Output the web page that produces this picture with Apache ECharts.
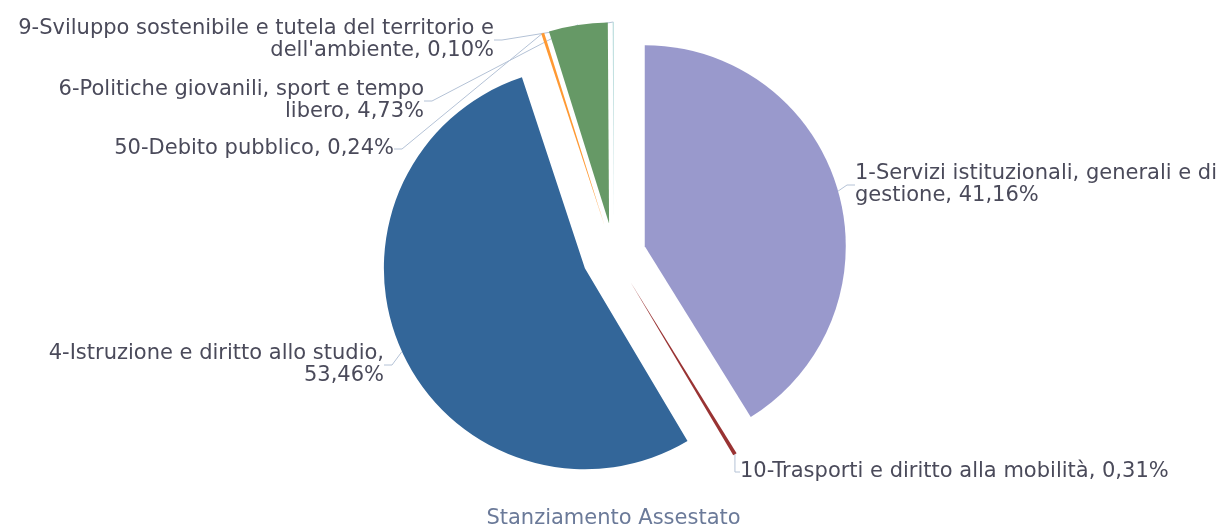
<!DOCTYPE html>
<html>
<head>
<meta charset="utf-8">
<title>Stanziamento Assestato</title>
<script src="https://cdn.jsdelivr.net/npm/echarts@6/dist/echarts.min.js"></script>
<style>
	html, body { margin: 0; padding: 0; background: #fff; }
	#pie { width: 1227px; height: 525px; }
</style>
</head>
<body>
<div id="pie"></div>
<script>
// dati del grafico (percentuali)
var names = [
	'1-Servizi istituzionali, generali e di\ngestione',
	'10-Trasporti e diritto alla mobilità',
	'4-Istruzione e diritto allo studio',
	'50-Debito pubblico',
	'6-Politiche giovanili, sport e tempo\nlibero',
	'9-Sviluppo sostenibile e tutela del territorio e\ndell\'ambiente'
];
var values = [41.16, 0.31, 53.46, 0.24, 4.73, 0.10];
var pctOnNewLine = [false, false, true, false, false, false];
var colors = ['#9999cc', '#993333', '#336699', '#ff9933', '#669966', '#bbdddd'];
var title = 'Stanziamento Assestato';

// geometria della torta
var cx = 614, cy = 255, R = 201, explode = 32;

// posizione delle etichette (ancora, allineamento)
var labelPos = [
	[ 855, 185, 'left' ],
	[ 740, 472, 'left' ],
	[ 384, 365, 'right' ],
	[ 394, 149, 'right' ],
	[ 424, 101, 'right' ],
	[ 494, 40, 'right' ]
];

var myPie = echarts.init(document.getElementById('pie'));

var total = 0;
for (var i = 0; i < values.length; i++) total += values[i];

// una serie per fetta, ognuna spostata lungo la bisettrice
var series = [];
var cum = 0;
for (var k = 0; k < values.length; k++) {
	var mid = (cum + values[k] / 2) / total * 2 * Math.PI;
	cum += values[k];
	var data = [];
	for (var j = 0; j < values.length; j++) {
		var on = (j === k);
		data.push({
			name : names[j],
			value : values[j],
			itemStyle : on ? { color : colors[j] } : { opacity : 0 },
			label : { show : on },
			labelLine : { show : on }
		});
	}
	series.push({
		type : 'pie',
		silent : true,
		center : [ cx + explode * Math.sin(mid), cy - explode * Math.cos(mid) ],
		radius : R,
		startAngle : 90,
		clockwise : true,
		avoidLabelOverlap : false,
		minShowLabelAngle : 0,
		itemStyle : { borderWidth : 0 },
		label : {
			position : 'outside',
			color : '#4a4a5a',
			fontSize : 21,
			lineHeight : 22,
			fontFamily : 'DejaVu Sans',
			formatter : function(p) {
				var pct = values[p.dataIndex].toFixed(2).replace('.', ',') + '%';
				return p.name + (pctOnNewLine[p.dataIndex] ? ',\n' : ', ') + pct;
			}
		},
		labelLine : {
			length : 8,
			length2 : 8,
			lineStyle : { color : '#b4c2d6', width : 1 }
		},
		labelLayout : function(p) {
			var a = labelPos[p.dataIndex];
			return {
				x : a[0],
				y : a[1],
				align : a[2],
				verticalAlign : 'middle'
			};
		},
		emphasis : { disabled : true },
		data : data
	});
}

var option = {
	animation : false,
	title : {
		text : title,
		left : 'center',
		top : 503,
		textStyle : {
			color : '#6b7a99',
			fontSize : 21,
			fontWeight : 'normal',
			fontFamily : 'DejaVu Sans'
		}
	},
	series : series
};
myPie.setOption(option);
</script>
</body>
</html>
